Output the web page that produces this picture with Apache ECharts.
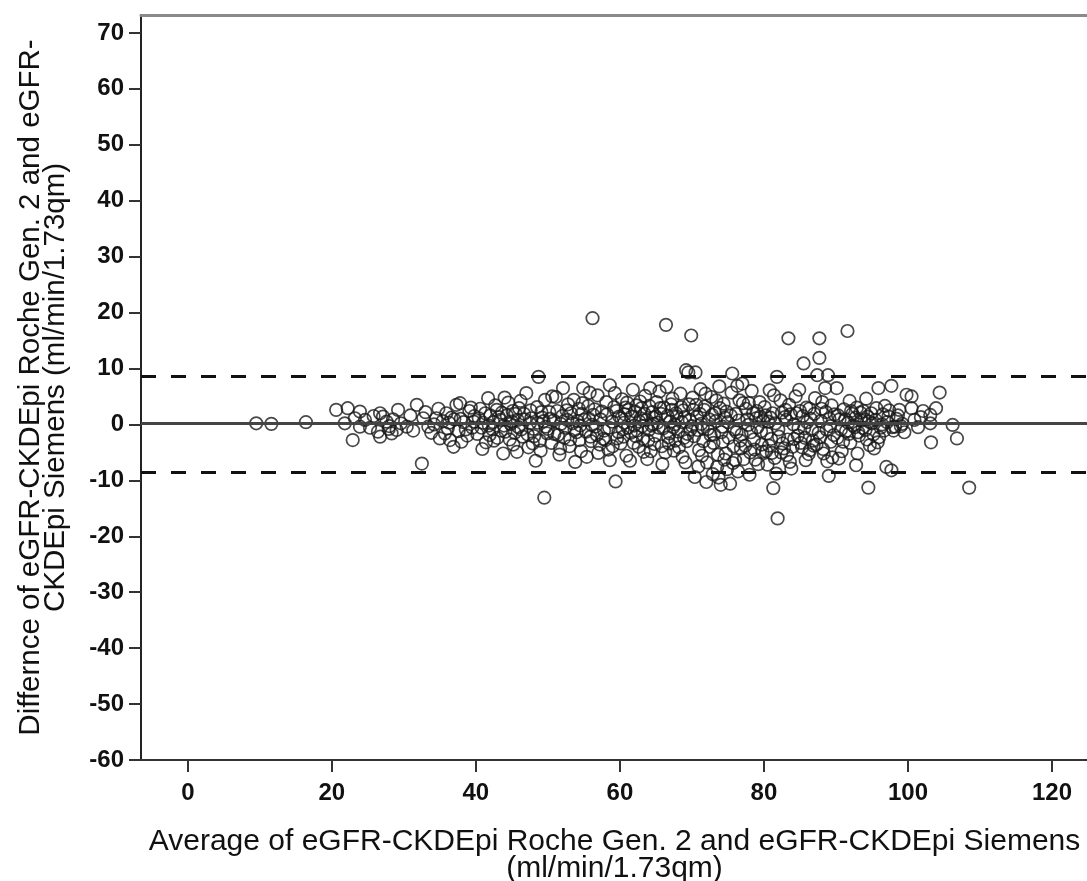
<!DOCTYPE html>
<html>
<head>
<meta charset="utf-8">
<script src="https://cdn.jsdelivr.net/npm/echarts@6/dist/echarts.min.js"></script>
<style>
  html, body { margin: 0; padding: 0; background: #fff; }
  #main { width: 1087px; height: 881px; }
</style>
</head>
<body>
<div id="main"></div>
<script>
// [average, difference] pairs, grouped by average range
var pointsBelow20 = [[9.5, 0.2], [11.6, 0.1], [16.4, 0.4]];
var points20s = [[20.6, 2.6], [22.2, 2.9], [23.9, 2.3], [21.8, 0.2], [22.9, -2.8], [23.9, -0.4], [23.2, 1.1], [24.6, 0.8], [25.3, -0.6], [26.7, 2.0], [26.4, -1.3], [26.7, -2.2], [27.6, 0.5], [27.1, 1.4], [28.0, -0.3], [28.5, 0.9], [29.2, 2.6], [29.0, -1.0], [29.6, 0.2], [28.3, -1.6], [25.8, 1.5], [27.9, -0.8]];
var points30s = [[30.4, -0.4], [30.9, 1.6], [31.8, 3.5], [32.5, -7.0], [32.7, 1.1], [33.4, -0.4], [33.0, 2.2], [33.8, -1.5], [34.5, 1.1], [34.2, 0.0], [35.0, -2.5], [35.4, 0.6], [35.9, 2.0], [36.4, -2.8], [36.9, -4.0], [37.3, 3.5], [36.6, 1.2], [37.8, 3.8], [37.6, -1.2], [38.3, 0.4], [38.8, -2.0], [39.1, 2.4], [39.5, -0.6], [39.8, 1.5], [38.0, -3.1], [31.3, -1.1], [34.8, 2.8], [36.1, -0.7], [37.0, 0.9], [39.3, 3.0]];
var points40s = [[40.2, -1.7], [40.6, 2.8], [41.0, 0.3], [41.4, -3.2], [41.7, 4.7], [42.0, 1.6], [42.3, -0.9], [42.7, 3.4], [43.0, -2.4], [43.4, 0.8], [43.8, -5.2], [43.6, 2.1], [44.1, -1.3], [44.5, 3.9], [44.8, 0.1], [45.2, -3.6], [45.5, 1.9], [45.9, -0.5], [46.2, 4.2], [46.5, -2.2], [46.8, 0.9], [47.0, 5.6], [47.3, -4.1], [47.6, 2.5], [48.0, -0.8], [48.3, -6.5], [48.7, 8.5], [48.5, 3.1], [48.9, -2.9], [49.2, 1.2], [49.5, -13.1], [49.6, 4.4], [49.9, -1.6], [40.9, -4.4], [42.5, -2.9], [44.0, 4.8], [45.7, -4.9], [47.9, -3.4], [49.0, -4.7], [46.0, 2.9], [41.8, -0.2], [43.2, 1.3], [45.0, 0.5], [47.5, 0.2], [49.4, 0.6]];
var points50s = [[50.2, 2.2], [50.5, -3.3], [50.8, 0.7], [51.1, 4.9], [51.4, -1.9], [51.7, -4.3], [52.1, 6.5], [52.0, 1.5], [52.4, -0.6], [52.8, 3.6], [53.1, -2.7], [53.4, 0.2], [53.8, -6.7], [53.6, 4.4], [54.0, -1.4], [54.3, 2.8], [54.6, -4.8], [54.9, 6.5], [55.1, 0.9], [55.4, -5.8], [55.6, 3.3], [55.9, -2.2], [56.2, 19.0], [56.3, 1.7], [56.6, -0.4], [56.9, 5.2], [57.2, -3.6], [57.5, 2.3], [57.8, -1.1], [58.1, 4.0], [58.4, -4.5], [58.6, 7.0], [58.6, -6.4], [58.9, 0.5], [59.2, 3.1], [59.4, -10.2], [59.6, -2.5], [59.9, 1.4], [50.6, 5.0], [51.6, -5.4], [53.0, -3.9], [54.5, -0.2], [55.8, 5.7], [57.0, -5.1], [58.0, -2.8], [59.3, 5.6], [52.6, 2.5], [56.0, -3.0], [50.0, -0.8], [54.7, 1.9]];
var points60s = [[60.1, -3.4], [60.3, 4.5], [60.6, 0.3], [60.9, -5.6], [61.2, 2.6], [61.5, -1.5], [61.8, 6.2], [62.0, -0.2], [62.3, 3.4], [62.6, -4.0], [62.9, 1.1], [63.2, -2.6], [63.5, 5.1], [63.8, -6.2], [63.7, 0.8], [64.0, -1.0], [64.2, 6.5], [64.5, 2.2], [64.8, -3.5], [65.1, 4.0], [65.4, -0.6], [65.7, 1.9], [65.9, -7.1], [66.1, 3.0], [66.4, 17.8], [66.5, 6.7], [66.7, -2.3], [67.0, 0.5], [67.3, 4.6], [67.5, -4.7], [67.8, 2.0], [68.1, -1.3], [68.4, 5.5], [68.7, -5.8], [69.0, 1.3], [69.2, 9.7], [69.5, 9.3], [69.9, 15.9], [69.3, -3.0], [69.6, 3.6], [69.8, -0.9], [60.7, 1.8], [61.4, -6.5], [62.2, -2.1], [63.0, 2.9], [64.3, -4.8], [65.5, 5.9], [66.3, -5.0], [67.6, 0.0], [68.5, 3.1], [69.1, -6.8], [60.4, -0.9], [61.0, 3.9], [62.7, 0.5], [64.6, 0.1], [66.9, -1.6], [68.9, -2.4], [63.3, -4.9], [65.0, 1.4], [67.2, 2.6]];
var points70s = [[70.1, 4.8], [70.3, -2.1], [70.4, -9.4], [70.5, 9.3], [70.7, 1.4], [71.0, -4.6], [71.2, 6.3], [71.5, -0.6], [71.8, 3.2], [72.0, -10.3], [72.1, -6.8], [72.4, 0.9], [72.7, 4.9], [73.0, -3.3], [73.2, 2.0], [73.5, -7.6], [73.8, 6.8], [74.0, -10.8], [74.1, -1.4], [74.4, 3.7], [74.7, -5.2], [75.0, 0.4], [75.3, -10.6], [75.6, 9.1], [75.5, 5.7], [75.8, -3.9], [76.1, 1.9], [76.4, -8.4], [76.6, 4.3], [76.9, -1.8], [77.2, -6.2], [77.5, 2.8], [77.8, -0.1], [78.1, -5.0], [78.3, 6.0], [78.6, -2.7], [78.9, 1.1], [79.2, -7.1], [79.4, 4.0], [79.7, -3.6], [79.9, 0.6], [70.9, -7.5], [71.6, -3.0], [72.9, -8.9], [73.7, -9.5], [74.9, -8.0], [76.0, -6.4], [77.0, 7.3], [78.0, -9.0], [79.0, 2.4], [70.2, 2.6], [71.3, 0.1], [72.6, -1.9], [73.4, 4.3], [74.6, 1.2], [75.9, -0.9], [76.8, -4.3], [77.9, 3.8], [79.6, -1.2], [71.9, 5.5], [74.3, -3.1], [76.3, 6.9], [78.7, -4.5]];
var points80s = [[80.1, 3.1], [80.3, -4.8], [80.6, 0.5], [80.8, 6.1], [81.0, -2.6], [81.3, -11.4], [81.2, 2.0], [81.5, -6.0], [81.7, -8.8], [81.8, 8.5], [81.9, -16.8], [82.0, -0.9], [82.3, 4.3], [82.6, -3.4], [82.9, 1.3], [83.2, -5.5], [83.4, 15.4], [83.5, 3.5], [83.6, -6.7], [83.8, -7.9], [84.1, 0.0], [84.4, 5.0], [84.7, -2.0], [85.0, 2.4], [85.3, -4.1], [85.5, 10.9], [85.6, -0.7], [85.9, 3.0], [86.2, -5.3], [86.5, 1.0], [86.8, -2.9], [87.1, 4.7], [87.4, 8.8], [87.7, 15.4], [87.7, 11.9], [87.6, -1.5], [87.9, 0.6], [88.2, -4.4], [88.5, 6.5], [88.6, 2.2], [88.9, 8.8], [89.0, -9.2], [89.2, -0.3], [89.5, -5.9], [89.8, 1.8], [80.5, -7.2], [82.4, -5.0], [84.0, -4.0], [85.8, -6.4], [86.9, -3.8], [88.8, -6.6], [81.4, 5.2], [83.0, 2.6], [84.9, 6.2], [86.3, 2.8], [88.1, 4.0], [89.4, 3.4]];
var points90s = [[90.1, 6.5], [90.2, -2.4], [90.5, 0.9], [90.8, -4.8], [91.1, 2.7], [91.4, -1.2], [91.6, 16.7], [91.7, 0.3], [92.0, -3.3], [92.3, 1.9], [92.6, -0.5], [92.8, -7.3], [92.9, 3.0], [93.2, -2.0], [93.5, 0.7], [93.8, 2.4], [94.1, -1.0], [94.4, 1.4], [94.5, -11.3], [94.7, -3.7], [95.0, 0.2], [95.3, -4.3], [95.6, 2.9], [95.9, 6.5], [96.2, -0.6], [96.5, 1.8], [97.0, -7.6], [97.1, 0.4], [97.4, 2.5], [97.7, 6.9], [97.7, -8.2], [98.0, -1.1], [98.4, 1.0], [98.8, 2.6], [99.2, 0.1], [99.5, -1.4], [99.8, 5.3], [90.4, -6.1], [91.9, 4.2], [93.0, -5.2], [94.2, 4.6], [96.0, -2.3], [96.8, 3.3], [98.2, -0.4]];
var points100s = [[100.5, 5.0], [100.5, 2.9], [100.9, 0.8], [101.4, -0.5], [102.1, 2.4], [103.1, 1.7], [103.1, 0.2], [103.2, -3.2], [103.9, 2.9], [104.4, 5.7], [106.2, -0.1], [106.8, -2.5], [108.5, -11.3], [101.8, 1.3]];
// extra points in the dense band around the mean
var pointsCore = [[35.7, -1.6], [36.3, 0.3], [37.9, 1.0], [38.6, -0.9], [39.7, 0.5], [40.4, 1.1], [40.8, -0.6], [41.3, 2.0], [41.9, -1.9], [42.4, 0.4], [42.9, 2.6], [43.5, -1.1], [43.9, -0.2], [44.3, 1.6], [44.7, -2.7], [45.1, 2.4], [45.4, -1.5], [45.8, 0.8], [46.3, -0.9], [46.7, 1.9], [47.2, -1.8], [47.7, 1.1], [48.1, -2.1], [48.6, 0.3], [49.1, 2.2], [49.7, -0.4],
    [50.3, 1.0], [50.9, -1.7], [51.3, 2.4], [51.8, 0.1], [52.3, -2.4], [52.7, 0.8], [53.2, 2.0], [53.7, -1.0], [54.1, 0.6], [54.4, -2.8], [54.8, 3.8], [55.3, -1.3], [55.7, 1.0], [56.1, -0.1], [56.5, 2.7], [56.8, -1.9], [57.3, 0.9], [57.7, -2.6], [58.2, 1.8], [58.5, -0.6], [59.0, -3.9], [59.5, 2.4], [59.8, -1.4],
    [60.2, 1.1], [60.5, -2.2], [60.8, 3.0], [61.1, -0.6], [61.6, 1.4], [61.9, -3.3], [62.1, 2.3], [62.4, -1.1], [62.8, 4.1], [63.1, -0.3], [63.4, 1.9], [63.9, -2.9], [64.1, 3.3], [64.4, -0.2], [64.7, 1.2], [64.9, -2.0], [65.2, 0.3], [65.6, 2.9], [65.8, -3.9], [66.0, -0.7], [66.6, 1.5], [66.8, -3.4], [67.1, 3.6], [67.4, -0.5], [67.7, -2.9], [67.9, 1.4], [68.2, -4.1], [68.6, 0.4], [68.8, 2.5], [69.4, -1.7], [69.7, 0.8],
    [70.0, -0.3], [70.6, 3.5], [70.8, -1.0], [71.1, 1.9], [71.4, -5.6], [71.7, 2.6], [72.2, -0.8], [72.5, -4.0], [72.8, 1.7], [73.1, -1.8], [73.3, 0.6], [73.6, -5.4], [73.9, 2.9], [74.2, -0.4], [74.5, -6.3], [74.8, 2.3], [75.1, -2.4], [75.4, 1.6], [75.7, -6.9], [76.2, -1.4], [76.5, 0.7], [76.7, -2.9], [77.1, 3.8], [77.4, -3.8], [77.7, 0.9], [78.2, -1.4], [78.5, 2.0], [78.8, -6.3], [79.1, -0.5], [79.5, 1.4], [79.8, -4.9],
    [80.2, 1.6], [80.4, -1.6], [80.7, -3.8], [80.9, 1.2], [81.1, -5.1], [81.6, 0.2], [82.1, -2.2], [82.5, 2.1], [82.8, -4.3], [83.1, 0.8], [83.3, -2.7], [83.7, 1.8], [84.2, -2.6], [84.5, 2.0], [84.8, -0.6], [85.1, -3.3], [85.4, 1.5], [85.7, -2.4], [86.0, 0.4], [86.4, -4.6], [86.7, -1.0], [87.0, 1.9], [87.3, -3.6], [87.8, -2.3], [88.0, 2.8], [88.3, -5.2], [88.7, -0.9], [89.1, 1.0], [89.3, -3.1], [89.7, -1.9],
    [90.3, 1.6], [90.7, -0.9], [91.0, -3.1], [91.3, 0.9], [91.8, -1.7], [92.1, 2.4], [92.4, -0.2], [92.7, 1.2], [93.1, -1.4], [93.4, 2.1], [93.7, -0.6], [94.0, 0.9], [94.3, -2.7], [94.6, 0.5], [94.9, 2.0], [95.2, -1.8], [95.5, 0.8], [95.8, -3.2], [96.4, 0.0], [96.7, -1.1], [97.3, 1.4], [97.8, -0.5], [98.6, 1.6], [99.0, -0.3]];

var meanDiff = 0.2;
var upperLimit = 8.7;
var lowerLimit = -8.5;

var xTicks = [0, 20, 40, 60, 80, 100, 120];
var yTicks = [-60, -50, -40, -30, -20, -10, 0, 10, 20, 30, 40, 50, 60, 70];

var allPoints = [].concat(pointsBelow20, points20s, points30s, points40s, points50s,
    points60s, points70s, points80s, points90s, points100s, pointsCore);

var myChart = echarts.init(document.getElementById('main'));

var labelFont = {
    fontFamily: '"Liberation Sans", Arial, sans-serif',
    fontWeight: 'bold',
    fontSize: 24,
    color: '#111'
};

var option = {
    backgroundColor: '#fff',
    animation: false,
    grid: {
        left: 141,
        right: -1,
        top: 15,
        bottom: 121,
        outerBoundsMode: 'none',
        containLabel: false
    },
    xAxis: [{
        type: 'value',
        min: -6.5,
        max: 125,
        name: 'Average of eGFR-CKDEpi Roche Gen. 2 and eGFR-CKDEpi Siemens\n(ml/min/1.73qm)',
        nameLocation: 'middle',
        nameGap: 68,
        nameTextStyle: {
            fontFamily: '"Liberation Sans", Arial, sans-serif',
            fontSize: 30,
            lineHeight: 27,
            color: '#111'
        },
        axisLine: { show: true, onZero: false, lineStyle: { color: '#333', width: 2 } },
        axisTick: {
            show: true, length: 12, customValues: xTicks,
            lineStyle: { color: '#333', width: 2 }
        },
        axisLabel: Object.assign({ margin: 21, customValues: xTicks }, labelFont),
        splitLine: { show: false }
    }, {
        type: 'value',
        position: 'top',
        min: -6.5,
        max: 125,
        axisLine: { show: true, onZero: false, lineStyle: { color: '#8a8a8a', width: 3 } },
        axisTick: { show: false },
        axisLabel: { show: false },
        splitLine: { show: false }
    }],
    yAxis: {
        type: 'value',
        min: -60,
        max: 73.2,
        name: 'Differnce of eGFR-CKDEpi Roche Gen. 2 and eGFR-\nCKDEpi Siemens (ml/min/1.73qm)',
        nameLocation: 'middle',
        nameGap: 73,
        nameTextStyle: {
            fontFamily: '"Liberation Sans", Arial, sans-serif',
            fontSize: 29.5,
            lineHeight: 25,
            color: '#111'
        },
        axisLine: { show: true, onZero: false, lineStyle: { color: '#222', width: 2 } },
        axisTick: {
            show: true, length: 12, customValues: yTicks,
            lineStyle: { color: '#333', width: 2 }
        },
        axisLabel: Object.assign({ margin: 17, customValues: yTicks }, labelFont),
        splitLine: { show: false }
    },
    series: [{
        type: 'scatter',
        xAxisIndex: 0,
        symbol: 'circle',
        symbolSize: 12.5,
        data: allPoints,
        itemStyle: {
            color: 'rgba(0,0,0,0)',
            borderColor: '#1a1a1a',
            borderWidth: 1.7
        },
        markLine: {
            silent: true,
            symbol: ['none', 'none'],
            label: { show: false },
            data: [
                { yAxis: meanDiff, lineStyle: { type: 'solid', color: '#444', width: 3 } },
                { yAxis: upperLimit, lineStyle: { type: [15, 15], color: '#111', width: 3 } },
                { yAxis: lowerLimit, lineStyle: { type: [15, 15], color: '#111', width: 3 } }
            ]
        }
    }]
};

myChart.setOption(option);
</script>
</body>
</html>
